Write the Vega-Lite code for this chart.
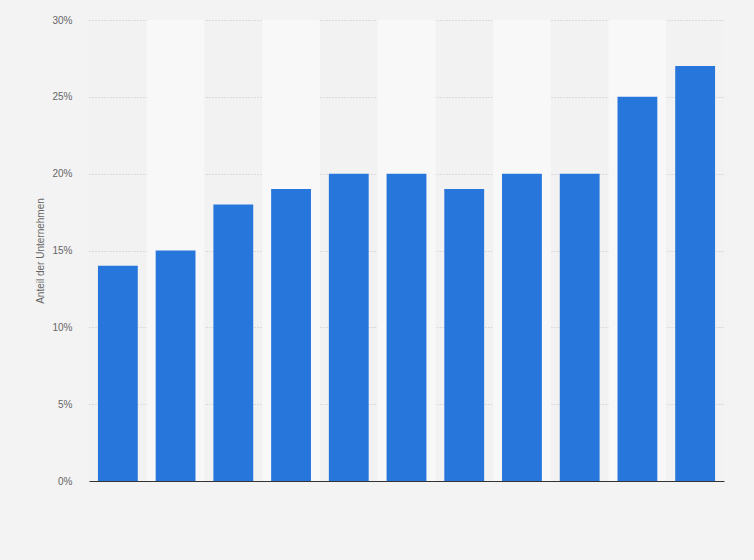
{
  "$schema": "https://vega.github.io/schema/vega-lite/v6.json",
  "width": 635,
  "height": 461,
  "autosize": "none",
  "padding": {"left": 89, "top": 20, "right": 30, "bottom": 79},
  "background": "#f3f3f3",
  "config": {
    "view": {"stroke": null, "fill": "#f2f2f2"},
    "axis": {"labelFont": "Liberation Sans", "titleFont": "Liberation Sans"}
  },
  "data": {
    "values": [
      {"kategorie": "1", "anteil": 0.14, "streifen": "a"},
      {"kategorie": "2", "anteil": 0.15, "streifen": "b"},
      {"kategorie": "3", "anteil": 0.18, "streifen": "a"},
      {"kategorie": "4", "anteil": 0.19, "streifen": "b"},
      {"kategorie": "5", "anteil": 0.20, "streifen": "a"},
      {"kategorie": "6", "anteil": 0.20, "streifen": "b"},
      {"kategorie": "7", "anteil": 0.19, "streifen": "a"},
      {"kategorie": "8", "anteil": 0.20, "streifen": "b"},
      {"kategorie": "9", "anteil": 0.20, "streifen": "a"},
      {"kategorie": "10", "anteil": 0.25, "streifen": "b"},
      {"kategorie": "11", "anteil": 0.27, "streifen": "a"}
    ]
  },
  "layer": [
    {
      "transform": [{"filter": "datum.streifen == 'b'"}],
      "mark": {"type": "rect", "color": "#f8f8f8"},
      "encoding": {
        "x": {
          "field": "kategorie",
          "type": "ordinal",
          "sort": null,
          "scale": {"domain": ["1","2","3","4","5","6","7","8","9","10","11"], "paddingInner": 0, "paddingOuter": 0},
          "axis": null
        },
        "y": {"datum": 0, "type": "quantitative", "scale": {"domain": [0, 0.3]}},
        "y2": {"datum": 0.3}
      }
    },
    {
      "mark": {"type": "bar", "color": "#2776dc"},
      "encoding": {
        "x": {
          "field": "kategorie",
          "type": "ordinal",
          "sort": null,
          "scale": {"domain": ["1","2","3","4","5","6","7","8","9","10","11"], "paddingInner": 0.31, "paddingOuter": 0.155},
          "axis": {"title": null, "labels": false, "ticks": false, "domain": true, "domainColor": "#333333", "domainWidth": 1.2}
        },
        "y": {
          "field": "anteil",
          "type": "quantitative",
          "scale": {"domain": [0, 0.3]},
          "axis": {
            "title": "Anteil der Unternehmen",
            "titleFontSize": 10,
            "titleFontWeight": "normal",
            "titleColor": "#666666",
            "titlePadding": 6,
            "format": ".0%",
            "values": [0, 0.05, 0.1, 0.15, 0.2, 0.25, 0.3],
            "labelFontSize": 10,
            "labelColor": "#666666",
            "labelPadding": 17,
            "ticks": false,
            "domain": false,
            "grid": true,
            "gridColor": "#c4c4c4",
            "gridDash": [1, 2],
            "gridWidth": 1
          }
        }
      }
    }
  ],
  "resolve": {"scale": {"x": "independent"}}
}
